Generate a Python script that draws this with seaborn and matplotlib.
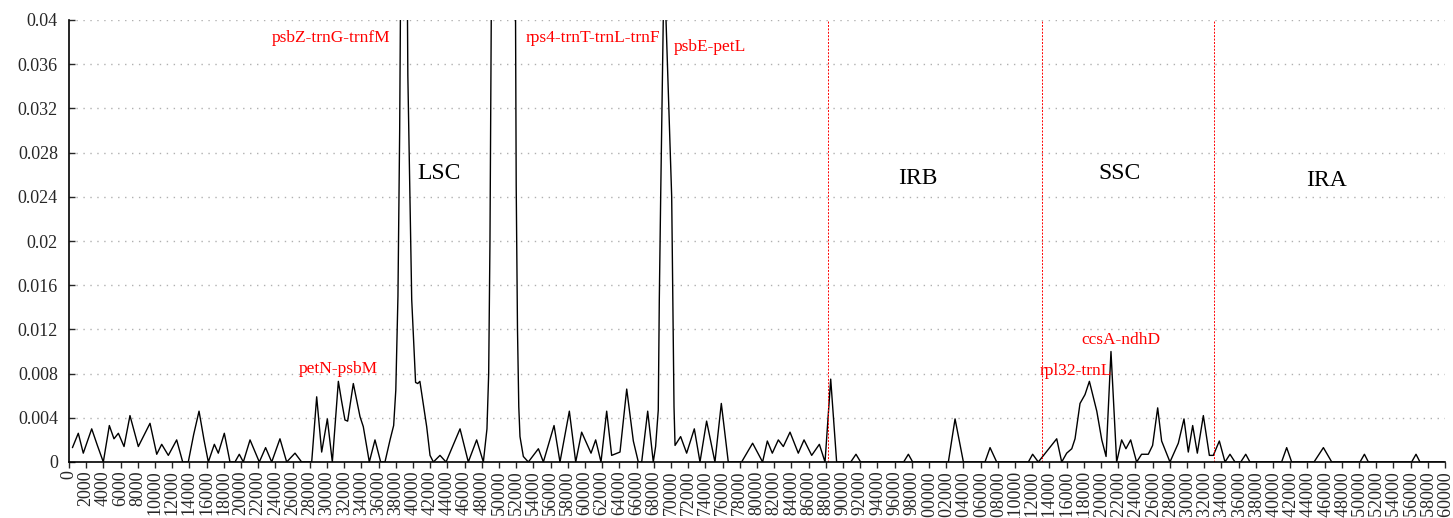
import numpy as np
import pandas as pd
import matplotlib
matplotlib.use("Agg")
import matplotlib.pyplot as plt
import seaborn as sns

# sliding-window nucleotide diversity along the plastome
position = [
    400, 1080, 1660, 2640, 3300, 3990, 4690, 5230, 5740, 6400,
    7090, 8060, 9420, 10200, 10780, 11550, 12520, 13220, 13870, 14500,
    15120, 15700, 16200, 16900, 17360, 18060, 18720, 19300, 19800, 20270,
    21050, 22130, 22860, 23570, 24530, 25310, 26280, 27050, 28220, 28800,
    29380, 30040, 30620, 31320, 31700, 32090, 32400, 33060, 33840, 34220,
    34920, 35580, 36240, 36740, 37330, 37750, 38000, 38250, 38450, 38700,
    39000, 39200, 39400, 39850, 40300, 40550, 40800, 41590, 41980,
    42370, 43140, 43840, 45470, 46430, 47400, 48180, 48600, 48800, 48950,
    49100, 49300, 50500, 51700, 51900, 52000, 52150, 52300, 52440, 52830,
    53410, 54580, 55160, 56400, 57090, 58180, 58920, 59610, 60700, 61240,
    61860, 62520, 63100, 64070, 64850, 65620, 66200, 66590, 67290, 67940,
    68210, 68520, 68640, 68800, 69100, 69260, 69420, 70080, 70210, 70350,
    70470, 71120, 71820,
    72710, 73370, 74140, 75110, 75850, 76660, 78210, 79490, 80650, 81200,
    81780, 82480, 83060, 83840, 84800, 85470, 86360, 87250, 87910, 88570,
    89260, 90900, 91510, 92050, 97050, 97600, 98100, 102250, 103030, 104000,
    106510, 107100, 107870, 111550, 112050, 112710, 114850, 115430, 116010, 116600,
    116980, 117560, 118140, 118650, 119510, 120090, 120590, 121160, 121820, 122400,
    122900, 123450, 124140, 124720, 125500, 126000, 126590, 127050, 128020, 128990,
    129650, 130150, 130660, 131200, 131900, 132600, 133060, 133760, 134420, 135000,
    135580, 136250, 136830, 137320, 141000, 141590, 142170, 144770, 145860, 146830,
    150120, 150630, 151090, 156120, 156630, 157090, 159900,
]
pi = [
    0.0013, 0.0026, 0.0008, 0.0030, 0.0015, 0.0, 0.0033, 0.0021, 0.0026, 0.0014,
    0.0042, 0.0014, 0.0035, 0.0007, 0.0016, 0.0006, 0.0020, 0.0, 0.0, 0.0025,
    0.0046, 0.0020, 0.0, 0.0016, 0.0008, 0.0026, 0.0, 0.0, 0.0007, 0.0,
    0.0020, 0.0, 0.0013, 0.0, 0.0021, 0.0, 0.0008, 0.0, 0.0, 0.0059,
    0.0009, 0.0039, 0.0, 0.0073, 0.0055, 0.0038, 0.0037, 0.0071, 0.0041, 0.0032,
    0.0, 0.0020, 0.0, 0.0, 0.0020, 0.0033, 0.0065, 0.015, 0.030, 0.060,
    0.070, 0.060, 0.035, 0.0147, 0.0072, 0.0071, 0.0073, 0.0032, 0.0006,
    0.0, 0.0006, 0.0, 0.0030, 0.0, 0.0020, 0.0, 0.0030, 0.0080, 0.020,
    0.040, 0.070, 0.080, 0.070, 0.045, 0.025, 0.012, 0.005, 0.0023, 0.0005,
    0.0, 0.0012, 0.0, 0.0033, 0.0, 0.0046, 0.0, 0.0027, 0.0008, 0.0020,
    0.0, 0.0046, 0.0006, 0.0009, 0.0066, 0.0019, 0.0, 0.0, 0.0046, 0.0,
    0.0014, 0.0047, 0.0147, 0.024, 0.040, 0.046, 0.040, 0.024, 0.0147, 0.005,
    0.0015, 0.0023, 0.0008,
    0.0030, 0.0, 0.0037, 0.0, 0.0053, 0.0, 0.0, 0.0017, 0.0, 0.0019,
    0.0008, 0.0020, 0.0014, 0.0027, 0.0008, 0.0020, 0.0006, 0.0016, 0.0, 0.0075,
    0.0, 0.0, 0.0007, 0.0, 0.0, 0.0007, 0.0, 0.0, 0.0039, 0.0,
    0.0, 0.0013, 0.0, 0.0, 0.0007, 0.0, 0.0021, 0.0, 0.0008, 0.0012,
    0.0021, 0.0053, 0.0061, 0.0073, 0.0046, 0.0020, 0.0005, 0.0100, 0.0, 0.0020,
    0.0012, 0.0020, 0.0, 0.0007, 0.0007, 0.0015, 0.0049, 0.0019, 0.0, 0.0017,
    0.0039, 0.0009, 0.0033, 0.0008, 0.0042, 0.0006, 0.0006, 0.0019, 0.0, 0.0007,
    0.0, 0.0, 0.0007, 0.0, 0.0, 0.0013, 0.0, 0.0, 0.0013, 0.0,
    0.0, 0.0007, 0.0, 0.0, 0.0007, 0.0, 0.0,
]

# region borders (LSC/IRB, IRB/SSC, SSC/IRA)
borders = [88200, 113180, 133100]
region_names = ["LSC", "IRB", "SSC", "IRA"]
region_x = [43080, 98720, 122100, 146170]
region_y = [0.0261, 0.0257, 0.0261, 0.0255]

# hotspot labels
hot_names = ["psbZ-trnG-trnfM", "rps4-trnT-trnL-trnF", "psbE-petL",
             "petN-psbM", "ccsA-ndhD", "rpl32-trnL"]
hot_x = [30470, 60930, 74540, 31280, 122330, 117090]
hot_y = [0.0384, 0.0384, 0.0376, 0.0084, 0.0110, 0.0082]

y_ticks = [0, 0.004, 0.008, 0.012, 0.016, 0.02, 0.024, 0.028, 0.032, 0.036, 0.04]
y_tick_labels = ["0", "0.004", "0.008", "0.012", "0.016", "0.02", "0.024",
                 "0.028", "0.032", "0.036", "0.04"]
x_ticks = list(range(0, 160001, 2000))
x_tick_labels = [str(t) for t in x_ticks]

df = pd.DataFrame({"Position": position, "Pi": pi})

sns.set_style("white")
plt.rcParams["font.family"] = ["Liberation Serif", "DejaVu Serif"]

fig = plt.figure(figsize=(14.53, 5.18), dpi=100)
ax = fig.add_axes([69 / 1453, 1 - 462 / 518, 1376 / 1453, 442 / 518])

sns.lineplot(data=df, x="Position", y="Pi", color="black", linewidth=1.0,
             estimator=None, sort=False, ax=ax)

for b in borders:
    ax.axvline(b, color="red", linewidth=0.7, linestyle=(0, (2, 1.5)))

for name, x, y in zip(region_names, region_x, region_y):
    ax.text(x, y, name, fontsize=17, ha="center", va="center", color="black")
for name, x, y in zip(hot_names, hot_x, hot_y):
    ax.text(x, y, name, fontsize=12.5, ha="center", va="center", color="red")

ax.set_xlim(0, 160000)
ax.set_ylim(0, 0.04)
ax.set_yticks(y_ticks)
ax.set_yticklabels(y_tick_labels, fontsize=13)
ax.set_xticks(x_ticks)
ax.set_xticklabels(x_tick_labels, rotation=90, fontsize=13)
ax.set_xlabel("")
ax.set_ylabel("")

ax.yaxis.grid(True, color="#b0b0b0", linestyle=(0, (1, 4)), linewidth=1)
ax.xaxis.grid(False)
ax.tick_params(axis="y", direction="in", length=4, width=1, pad=8)
ax.tick_params(axis="x", direction="out", length=4, width=1, pad=2)
ax.tick_params(bottom=True, left=True)
for side in ["top", "right"]:
    ax.spines[side].set_visible(False)
for side in ["left", "bottom"]:
    ax.spines[side].set_color("black")
    ax.spines[side].set_linewidth(1.2)

fig.savefig("out.png", dpi=100)
